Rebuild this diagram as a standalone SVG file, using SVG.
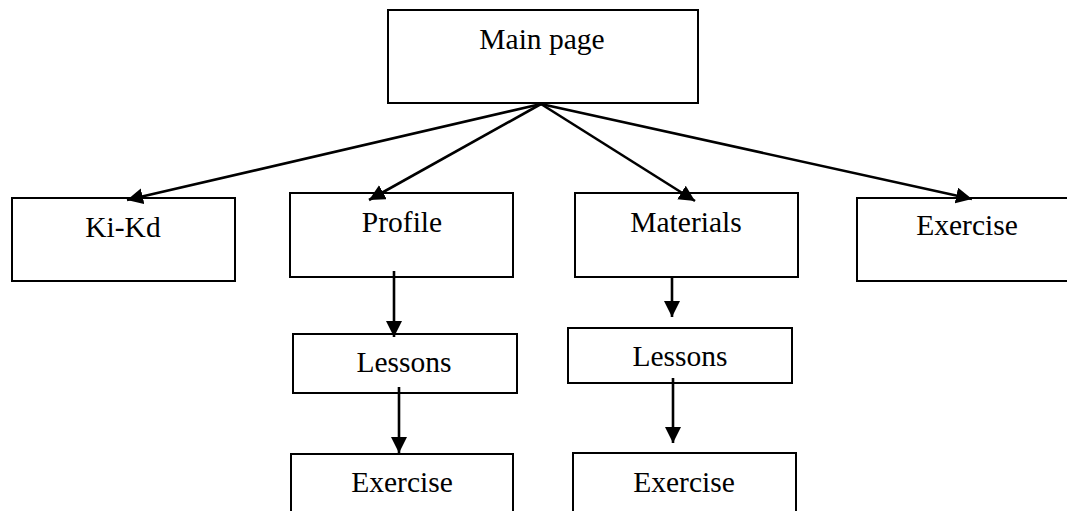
<svg xmlns="http://www.w3.org/2000/svg" width="1067" height="511" viewBox="0 0 1067 511">
<style>
.box{fill:#fff;stroke:#000;stroke-width:2}
.lbl{font-family:"Liberation Serif","Times New Roman",serif;font-size:29.5px;fill:#000;text-anchor:middle}
.edge{stroke:#000;stroke-width:2.6;fill:none;marker-end:url(#ah)}
</style>
<defs>
<marker id="ah" markerUnits="userSpaceOnUse" markerWidth="17" markerHeight="17" refX="16" refY="8" orient="auto">
<path d="M0,0 L16,8 L0,16 z" fill="#000"/>
</marker>
</defs>
<rect width="1067" height="511" fill="#fff"/>
<g id="main"><rect class="box" x="388" y="10" width="310" height="93"/><text class="lbl" x="542" y="49">Main page</text></g>
<g id="kikd"><rect class="box" x="12" y="198" width="223" height="83"/><text class="lbl" x="123" y="237">Ki-Kd</text></g>
<g id="profile"><rect class="box" x="290" y="193" width="223" height="84"/><text class="lbl" x="402" y="232">Profile</text></g>
<g id="materials"><rect class="box" x="575" y="193" width="223" height="84"/><text class="lbl" x="686" y="232">Materials</text></g>
<g id="exercise-top"><rect class="box" x="857" y="198" width="230" height="83"/><text class="lbl" x="967" y="235">Exercise</text></g>
<g id="lessons1"><rect class="box" x="293" y="334" width="224" height="59"/><text class="lbl" x="404" y="372">Lessons</text></g>
<g id="lessons2"><rect class="box" x="568" y="328" width="224" height="55"/><text class="lbl" x="680" y="366">Lessons</text></g>
<g id="exercise1"><rect class="box" x="291" y="454" width="222" height="70"/><text class="lbl" x="402" y="492">Exercise</text></g>
<g id="exercise2"><rect class="box" x="573" y="453" width="223" height="70"/><text class="lbl" x="684" y="492">Exercise</text></g>
<g id="connectors">
<line class="edge" x1="541" y1="104" x2="127" y2="200"/>
<line class="edge" x1="541" y1="104" x2="369" y2="200"/>
<line class="edge" x1="541" y1="104" x2="695" y2="201"/>
<line class="edge" x1="541" y1="104" x2="972" y2="199"/>
<line class="edge" x1="394" y1="271" x2="394" y2="337"/>
<line class="edge" x1="399" y1="387" x2="399" y2="453"/>
<line class="edge" x1="672" y1="277" x2="672" y2="317"/>
<line class="edge" x1="673" y1="378" x2="673" y2="443"/>
</g>
</svg>
